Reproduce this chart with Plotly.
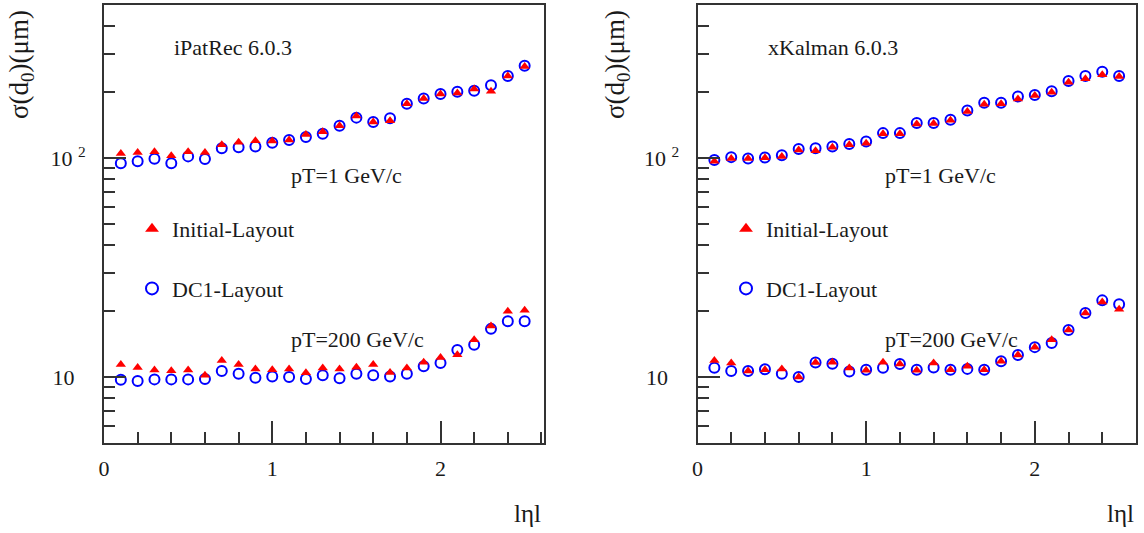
import plotly.graph_objects as go

eta = [round(0.1 * i, 1) for i in range(1, 26)]

# iPatRec 6.0.3
ipat_init_pt1 = [105, 106, 107, 102.5, 107, 106, 115, 118, 120, 119.6, 121, 128, 132, 140.5, 155.5,
                 146, 148, 177, 187, 196, 198, 207, 202, 237, 262]
ipat_dc1_pt1 = [94.6, 96.6, 99.4, 94.6, 101.8, 99, 111, 112, 113, 117.5, 121, 124.7, 129, 140.5, 153,
                146, 152, 177, 187, 196, 201, 203, 215, 237, 264]
ipat_init_pt200 = [11.4, 11.07, 10.76, 10.7, 10.76, 10.2, 11.9, 11.4, 10.9, 10.8, 10.9, 10.47, 11.0, 10.9,
                   11.1, 11.4, 10.5, 11.0, 11.7, 12.3, 12.65, 14.8, 17.1, 19.96, 20.2]
ipat_dc1_pt200 = [9.73, 9.59, 9.76, 9.76, 9.76, 9.8, 10.65, 10.36, 9.94, 10.07, 10.0, 9.8, 10.2, 9.87,
                  10.36, 10.2, 10.07, 10.36, 11.2, 11.6, 13.3, 14.06, 16.6, 18.0, 18.0]

# xKalman 6.0.3
xkal_init_pt1 = [96.7, 99.5, 99.5, 100.3, 101.7, 109, 108, 112, 115, 117, 129, 129, 143, 144, 149,
                 163, 176, 177, 186, 193, 200, 222, 230, 240, 236]
xkal_dc1_pt1 = [98, 101, 99.6, 100.6, 103, 110, 111, 113, 116, 119, 130, 130, 144.6, 144.6, 149.7,
                165, 179, 179, 191, 194, 202, 225, 236.8, 248, 237]
xkal_init_pt200 = [11.9, 11.6, 10.65, 10.8, 10.9, 10.0, 11.67, 11.7, 11.0, 10.75, 11.7, 11.47, 10.75, 11.6,
                   10.8, 11.2, 10.8, 11.8, 12.6, 13.7, 14.8, 16.4, 19.6, 22.0, 20.4]
xkal_dc1_pt200 = [11.04, 10.65, 10.65, 10.85, 10.36, 10.0, 11.67, 11.5, 10.6, 10.8, 11.04, 11.47, 10.8, 11.07,
                  10.8, 10.9, 10.8, 11.8, 12.6, 13.7, 14.3, 16.4, 19.6, 22.4, 21.5]

x_ticks = [0, 1, 2]
x_ticktext = ["0", "1", "2"]
y_ticks = [10, 100]
y_ticktext = ["10&nbsp;&nbsp;", "10 <sup>2</sup>"]
y_minor = [6, 7, 8, 9, 20, 30, 40, 50, 60, 70, 80, 90, 200, 300, 400]

FONT = "Liberation Serif"
LC = "#333333"
TC = "#1a1a1a"
W, H = 1144, 533

fig = go.Figure()

panels = [
    ("x", "y", "legend", ipat_init_pt1, ipat_init_pt200, ipat_dc1_pt1, ipat_dc1_pt200),
    ("x2", "y2", "legend2", xkal_init_pt1, xkal_init_pt200, xkal_dc1_pt1, xkal_dc1_pt200),
]
for xa, ya, lg, i1, i200, d1, d200 in panels:
    for vals, show in ((d1, True), (d200, False)):
        fig.add_trace(go.Scatter(x=eta, y=vals, mode="markers", xaxis=xa, yaxis=ya,
                                 name="DC1-Layout", legend=lg, legendgroup="dc1" + xa,
                                 legendrank=2, showlegend=show,
                                 marker=dict(symbol="circle-open", size=10, color="#0000ff",
                                             line=dict(width=2, color="#0000ff"))))
    for vals, show in ((i1, True), (i200, False)):
        fig.add_trace(go.Scatter(x=eta, y=vals, mode="markers", xaxis=xa, yaxis=ya,
                                 name="Initial-Layout", legend=lg, legendgroup="init" + xa,
                                 legendrank=1, showlegend=show,
                                 marker=dict(symbol="triangle-up", size=9, color="#ff0000", line=dict(width=0))))

ydom = [(533 - 443) / H, (533 - 5) / H]
xdom1 = [104 / W, 544 / W]
xdom2 = [697.5 / W, 1136 / W]

def xaxis(dom, rng, anchor):
    return dict(domain=dom, range=rng, anchor=anchor, tickmode="array", tickvals=x_ticks,
                ticktext=x_ticktext, ticks="inside", ticklen=22, tickwidth=1.5, tickcolor=LC,
                showline=True, linecolor=LC, linewidth=2, mirror=True, showgrid=False, zeroline=False,
                tickfont=dict(family=FONT, size=22, color=TC), automargin=False,
                ticklabelstandoff=5,
                minor=dict(tickmode="linear", tick0=0, dtick=0.2, ticks="inside", ticklen=11,
                           tickwidth=1.5, tickcolor=LC, showgrid=False))

def yaxis(anchor):
    return dict(domain=ydom, type="log", range=[0.69897, 2.69897], anchor=anchor, tickmode="array",
                tickvals=y_ticks, ticktext=y_ticktext, ticks="inside", ticklen=22, tickwidth=1.5,
                tickcolor=LC, showline=True, linecolor=LC, linewidth=2, mirror=True, showgrid=False,
                zeroline=False, tickfont=dict(family=FONT, size=22, color=TC), automargin=False,
                ticklabelstandoff=12,
                minor=dict(tickmode="array", tickvals=y_minor, ticks="inside", ticklen=11,
                           tickwidth=1.5, tickcolor=LC, showgrid=False))

fig.update_layout(
    width=W, height=H, margin=dict(l=0, r=0, t=0, b=0),
    paper_bgcolor="white", plot_bgcolor="white",
    xaxis=xaxis(xdom1, [0, 2.615], "y"),
    yaxis=yaxis("x"),
    xaxis2=xaxis(xdom2, [0, 2.6], "y2"),
    yaxis2=yaxis("x2"),
    legend=dict(x=132 / W, y=(533 - 208) / H, xanchor="left", yanchor="top",
                bgcolor="rgba(0,0,0,0)", font=dict(family=FONT, size=22, color=TC),
                tracegroupgap=28, itemsizing="constant"),
    legend2=dict(x=726 / W, y=(533 - 208) / H, xanchor="left", yanchor="top",
                 bgcolor="rgba(0,0,0,0)", font=dict(family=FONT, size=22, color=TC),
                 tracegroupgap=28, itemsizing="constant"),
)

def txt(x, y, s, size=22, xanchor="center", **kw):
    fig.add_annotation(xref="paper", yref="paper", x=x / W, y=(H - y) / H, text=s, showarrow=False,
                       xanchor=xanchor, yanchor="middle",
                       font=dict(family=FONT, size=size, color=TC), **kw)

for ox, name, ylx in ((0, "iPatRec 6.0.3", 21), (594, "xKalman 6.0.3", 617)):
    txt(172 + ox, 47, name, xanchor="left")
    txt(289 + ox, 175, "pT=1 GeV/c", xanchor="left")
    txt(289 + ox, 339, "pT=200 GeV/c", xanchor="left")
    txt(ylx, 65, "σ(d<sub>0</sub>)(μm)", size=27, textangle=-90)
txt(527, 513, "lηl", size=25)
txt(1120, 513, "lηl", size=25)

fig.write_html("out.html")
